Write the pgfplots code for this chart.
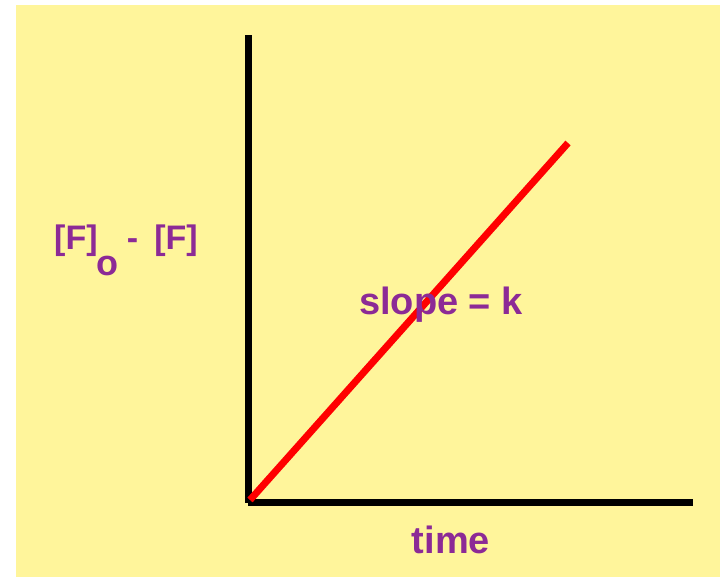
\documentclass[border=0pt]{standalone}
\usepackage{pgfplots}
\pgfplotsset{compat=1.18}
\usepackage{fontspec}
\setmainfont{Liberation Sans}
\definecolor{bgyellow}{RGB}{255,245,155}
\definecolor{txtpurple}{RGB}{140,42,150}
\begin{document}
\begin{tikzpicture}[x=1bp,y=1bp]
\fill[white] (0,0) rectangle (720,578);
\fill[bgyellow] (16,1) rectangle (720,573);
\begin{axis}[
  at={(248bp,75bp)}, anchor=origin,
  scale only axis, width=445bp, height=468bp,
  xmin=0, xmax=445, ymin=0, ymax=468,
  axis x line=bottom, axis y line=left,
  axis line style={-, line width=7bp, black},
  xtick=\empty, ytick=\empty,
  clip=false,
]
\addplot[red, line width=7bp] coordinates {(2,3) (320,360)};
\end{axis}
\begin{scope}[every node/.style={text=txtpurple, font=\bfseries\fontsize{38bp}{44bp}\selectfont, inner sep=0pt}]
\node at (451,38) {time};
\node at (441,273) {slope = k};
\begin{scope}[every node/.append style={font=\bfseries\fontsize{34bp}{40bp}\selectfont}]
\node[anchor=base west] at (54,328) {[F]};
\node[anchor=base, font=\bfseries\fontsize{36bp}{40bp}\selectfont] at (107,302) {o};
\node[anchor=base] at (132.5,328) {-};
\node[anchor=base east] at (198,328) {[F]};
\end{scope}
\end{scope}
\end{tikzpicture}
\end{document}
